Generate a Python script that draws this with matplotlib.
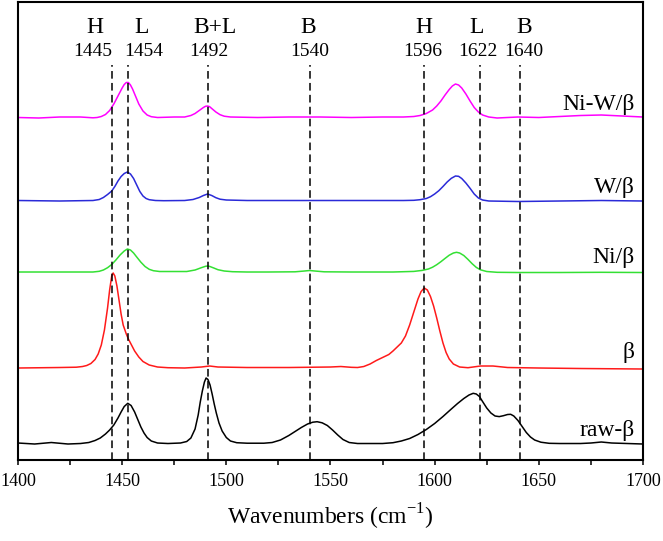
import numpy as np
import matplotlib
matplotlib.use('Agg')
import matplotlib.pyplot as plt
from matplotlib.ticker import MultipleLocator

plt.rcParams['font.family'] = ['Liberation Serif', 'DejaVu Serif']

# spectra (wavenumber, stacked intensity)
wn_niw = [1400, 1410, 1420, 1430, 1436, 1438, 1440, 1442, 1444, 1446, 1448, 1450, 1451, 1452, 1453, 1454,
          1455, 1456, 1458, 1460, 1462, 1464, 1467, 1475, 1480, 1483, 1485, 1487, 1489, 1490, 1491, 1492,
          1493, 1495, 1497, 1499, 1502, 1515, 1530, 1545, 1560, 1575, 1585, 1590, 1593, 1596, 1599, 1601,
          1603, 1605, 1607, 1608.5, 1610, 1611.5, 1613, 1615, 1617, 1619, 1621, 1623, 1626, 1630, 1640,
          1650, 1660, 1670, 1680, 1690, 1700]
y_niw = [342.5, 342, 343, 343, 342.2, 342.5, 343.5, 345.5, 349.5, 356, 364, 372, 375.5, 377.5, 377.5, 375,
         371, 366, 356, 349, 345, 343.3, 342.5, 343, 343, 344.5, 346.5, 349.5, 352.5, 353.7, 354, 353.3,
         351.5, 348, 345.3, 343.8, 343, 342.5, 343, 343, 342.5, 343, 343, 343.5, 344.5, 346.5, 350, 354,
         359, 365, 370.5, 374, 376, 375, 372, 366, 359, 352.5, 348, 345, 343, 342, 343,
         342.5, 343.5, 344.5, 345, 344, 343]

wn_w = [1400, 1420, 1436, 1439, 1441, 1443, 1445, 1446.5, 1448, 1449.5, 1451, 1452.5, 1454, 1455.5, 1457,
        1458.5, 1460, 1461.5, 1463, 1466, 1470, 1480, 1484, 1487, 1489, 1491, 1493, 1495, 1497, 1500,
        1510, 1530, 1550, 1570, 1585, 1590, 1593, 1596, 1598, 1600, 1602, 1604, 1606, 1608, 1610,
        1611.5, 1613, 1615, 1617, 1619, 1621, 1623, 1626, 1640, 1660, 1680, 1700]
y_w = [259.5, 259, 259.5, 260.5, 262.5, 265.5, 269, 273.5, 279, 283.5, 286.5, 288, 286, 281.5, 275,
       268.5, 264, 261.5, 260.3, 259.5, 259.3, 259.5, 260.5, 262.5, 264.5, 266, 264.5, 262.3, 260.8, 260,
       259.5, 259.5, 259.5, 259.5, 259.5, 259.7, 260.3, 261.5, 263.3, 266, 269.3, 273.5, 278, 281.7, 284,
       283.7, 281.5, 277, 271.7, 266, 262, 260, 259, 258.5, 259, 259.5, 259]

wn_ni = [1400, 1420, 1436, 1439, 1441, 1443, 1445, 1447, 1449, 1451, 1452.5, 1454, 1455.5, 1457, 1459, 1461,
         1463, 1465, 1468, 1475, 1481, 1485, 1488, 1490, 1491, 1492, 1494, 1496, 1499, 1503, 1510, 1520,
         1533, 1537, 1540, 1543, 1547, 1560, 1580, 1590, 1594, 1597, 1599, 1601, 1603, 1605, 1607, 1609,
         1610.5, 1612, 1614, 1616, 1618, 1620, 1622, 1625, 1630, 1640, 1660, 1680, 1700]
y_ni = [188, 188, 188, 188.7, 190, 192.3, 195.5, 200, 205, 209, 211, 210, 207, 203, 197.8, 193.5,
        190.7, 189.3, 188.5, 188.5, 188.5, 190, 192.3, 193.7, 194, 193.6, 192, 190.3, 189, 188.3, 188, 188,
        188.2, 188.9, 189.5, 188.9, 188.2, 188, 188, 188.6, 189.6, 191, 192.8, 195.3, 198.3, 201.6, 204.8, 207,
        207.7, 207, 204.5, 200.6, 196.3, 192.6, 190.2, 188.5, 187.7, 187.5, 187.5, 187.7, 187.5]

wn_b = [1400, 1420, 1428, 1431, 1433, 1435, 1437, 1438.5, 1440, 1441.5, 1443, 1444, 1445, 1445.7, 1446.5,
        1447.5, 1448.5, 1449.5, 1450.5, 1452, 1453, 1454, 1456, 1458, 1460, 1463, 1467, 1472, 1480, 1488,
        1492, 1496, 1510, 1530, 1550, 1555, 1560, 1563, 1566, 1569, 1572, 1575, 1578, 1580, 1582, 1584,
        1586, 1588, 1590, 1592, 1593.5, 1595, 1596.5, 1598, 1599.5, 1601, 1602.5, 1604, 1605.5, 1607,
        1609, 1612, 1616, 1622, 1628, 1635, 1650, 1670, 1700]
y_b = [92, 92.5, 92.8, 93.5, 94.5, 96.5, 100.5, 106, 115, 130, 152, 170, 184, 187, 184,
       174, 160, 146, 135, 126, 121, 117, 109, 103, 98.5, 95, 93, 92.3, 92, 93,
       94, 93, 92.5, 92.5, 93, 93.5, 92.7, 92.5, 93.5, 96, 99.5, 102.5, 105.5, 109, 113, 117,
       124, 135, 148, 161, 168.5, 172, 170, 163.5, 154, 142, 129, 117, 107.5, 101,
       96, 93, 92.3, 94, 94, 92.5, 92, 91.5, 91]

wn_raw = [1400, 1408, 1416, 1424, 1430, 1434, 1437, 1439.5, 1442, 1444, 1446, 1448, 1449.5, 1451, 1452.7,
          1454.3, 1456, 1457.5, 1459, 1460.5, 1462, 1464, 1467, 1472, 1478, 1481, 1483, 1485, 1486.5,
          1487.5, 1488.5, 1489.5, 1490.3, 1491.2, 1492.2, 1493.2, 1494.2, 1495.2, 1496.5, 1498, 1500, 1502,
          1505, 1510, 1518, 1522, 1526, 1530, 1533, 1536, 1539, 1541.5, 1543.6, 1546, 1548.5, 1551, 1553.5,
          1556, 1559, 1563, 1575, 1580, 1584, 1588, 1592, 1596, 1600, 1604, 1608, 1611, 1614, 1616.5,
          1618.5, 1620, 1621.5, 1623, 1625, 1627, 1629, 1631, 1633, 1635, 1636.5, 1638, 1640, 1642, 1644,
          1646, 1648, 1651, 1655, 1660, 1670, 1675, 1680, 1685, 1700]
y_raw = [17, 16, 17.5, 16, 16.5, 17.5, 19.5, 22, 26, 30, 35, 42, 48, 53.5, 56.7,
         54.5, 48, 40.5, 33, 27, 22.5, 19, 17, 16.5, 17, 18.5, 22, 31, 45,
         58, 69, 78, 82, 80.5, 75, 66, 56, 47, 37, 29, 22.5, 19,
         17.3, 16.8, 16.8, 17.5, 20, 24.5, 28.5, 32.5, 36, 37.8, 38.3, 37.2, 34.5, 30, 25,
         20.5, 17.5, 16.5, 16.5, 17.3, 19, 21.5, 25.5, 30.5, 36.5, 43.5, 51, 56.5, 61.5, 65,
         66.7, 66, 63.5, 58.5, 52, 47, 44, 43.4, 44.3, 45.5, 45.7, 44, 39.5, 33.5, 27.5,
         23, 20, 17.8, 16.7, 16.5, 16.5, 17, 18, 17, 16]

series = [
    (wn_niw, y_niw, '#ff00ff', 'Ni-W/β', 350),
    (wn_w, y_w, '#2a2ad8', 'W/β', 266.7),
    (wn_ni, y_ni, '#33e033', 'Ni/β', 197),
    (wn_b, y_b, '#ff1a1a', 'β', 102),
    (wn_raw, y_raw, '#000000', 'raw-β', 24),
]

# band assignments
band_pos = [1445, 1453, 1491, 1540, 1595, 1622, 1641]
band_type = ['H', 'L', 'B+L', 'B', 'H', 'L', 'B']
band_text = ['1445', '1454', '1492', '1540', '1596', '1622', '1640']
type_x = [1437, 1459.4, 1494.6, 1539.2, 1594.9, 1620.3, 1642.9]
text_x = [1435.8, 1460.2, 1491.7, 1540.2, 1594.2, 1620.8, 1642.9]

fig = plt.figure(figsize=(6.63, 5.41), dpi=100)
ax = fig.add_axes([0.0271, 0.1497, 0.9427, 0.8466])

for x, y, c, name, yl in series:
    ax.plot(x, y, color=c, lw=1.1, solid_joinstyle='round')
    ax.text(1696, yl, name, ha='right', va='baseline', fontsize=17)

for p in band_pos:
    ax.plot([p, p], [0, 395], color='black', lw=1.1, ls=(0, (5, 2.8)))

for tx, t in zip(type_x, band_type):
    ax.text(tx, 426.7, t, ha='center', va='baseline', fontsize=17)
for tx, t in zip(text_x, band_text):
    ax.text(tx, 404, t, ha='center', va='baseline', fontsize=14)

ax.set_xlim(1400, 1700)
ax.set_ylim(0, 458)
ax.set_yticks([])
ax.xaxis.set_major_locator(MultipleLocator(50))
ax.xaxis.set_minor_locator(MultipleLocator(25))
ax.tick_params(axis='x', which='both', direction='out', length=3.6, width=1.1, labelsize=13, pad=6)
for s in ax.spines.values():
    s.set_linewidth(1.5)
ax.set_xlabel(r'Wavenumbers (cm$^{\mathregular{-1}}$)', fontsize=17, labelpad=8)

fig.savefig('out.png', dpi=100)
